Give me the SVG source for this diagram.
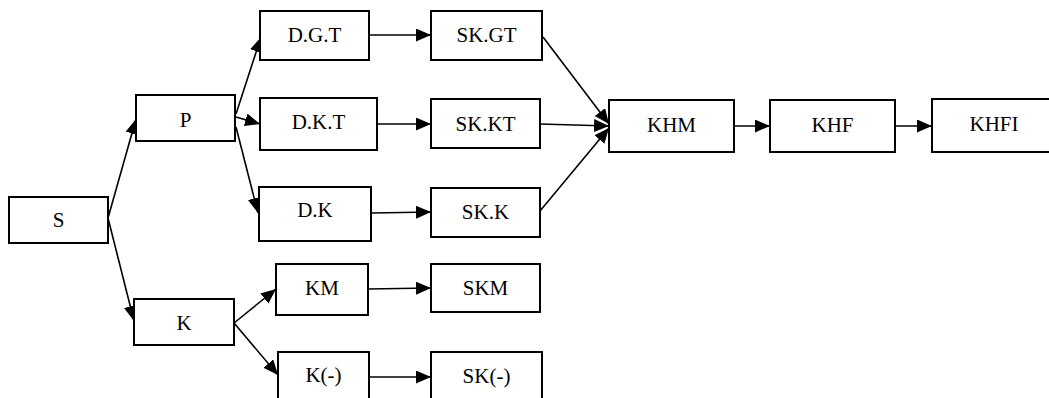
<svg xmlns="http://www.w3.org/2000/svg" width="1049" height="398" viewBox="0 0 1049 398">
<style>
rect.box{fill:#fff;stroke:#000;stroke-width:2}
text{font-family:"Liberation Serif","Times New Roman",serif;font-size:21px;fill:#000;text-anchor:middle}
.conn line{stroke:#000;stroke-width:1.6;marker-end:url(#arr)}
</style>
<defs>
<marker id="arr" markerUnits="userSpaceOnUse" markerWidth="16" markerHeight="14" refX="15" refY="6.5" orient="auto">
<path d="M0,0 L15,6.5 L0,13 z" fill="#000"/>
</marker>
</defs>
<g id="connectors" class="conn">
<line x1="108" y1="218" x2="136" y2="119"/>
<line x1="108" y1="218" x2="134" y2="321"/>
<line x1="236" y1="114" x2="261" y2="37"/>
<line x1="236" y1="117" x2="260" y2="124"/>
<line x1="236" y1="127" x2="258" y2="213"/>
<line x1="234" y1="323" x2="276" y2="289"/>
<line x1="234" y1="323" x2="278" y2="375"/>
<line x1="369" y1="35" x2="431" y2="35"/>
<line x1="377" y1="124" x2="431" y2="124"/>
<line x1="372" y1="213" x2="431" y2="212"/>
<line x1="368" y1="289" x2="431" y2="288"/>
<line x1="369" y1="377" x2="431" y2="377"/>
<line x1="543" y1="37" x2="609" y2="124"/>
<line x1="540" y1="124" x2="609" y2="126"/>
<line x1="540" y1="211" x2="609" y2="128"/>
<line x1="734" y1="126" x2="770" y2="126"/>
<line x1="895" y1="126" x2="932" y2="126"/>
</g>
<g id="node-S"><rect class="box" x="9" y="197" width="99" height="46"/><text x="58.5" y="227">S</text></g>
<g id="node-P"><rect class="box" x="136" y="95" width="99" height="46"/><text x="185.5" y="126.5">P</text></g>
<g id="node-K"><rect class="box" x="134" y="299" width="100" height="46"/><text x="184" y="330">K</text></g>
<g id="node-DGT"><rect class="box" x="260" y="11" width="109" height="49"/><text x="314.5" y="41.5">D.G.T</text></g>
<g id="node-DKT"><rect class="box" x="260" y="98" width="117" height="52"/><text x="318.5" y="129">D.K.T</text></g>
<g id="node-DK"><rect class="box" x="259" y="187" width="112" height="54"/><text x="315" y="217">D.K</text></g>
<g id="node-KM"><rect class="box" x="276" y="264" width="92" height="51"/><text x="322" y="295">KM</text></g>
<g id="node-Kminus"><rect class="box" x="278" y="352" width="91" height="52"/><text x="323.5" y="382">K(-)</text></g>
<g id="node-SKGT"><rect class="box" x="431" y="11" width="111" height="49"/><text x="486.5" y="41.5">SK.GT</text></g>
<g id="node-SKKT"><rect class="box" x="431" y="99" width="109" height="49"/><text x="485.5" y="131">SK.KT</text></g>
<g id="node-SKK"><rect class="box" x="431" y="188" width="109" height="49"/><text x="485.5" y="219">SK.K</text></g>
<g id="node-SKM"><rect class="box" x="431" y="264" width="109" height="48"/><text x="485.5" y="295">SKM</text></g>
<g id="node-SKminus"><rect class="box" x="431" y="352" width="111" height="52"/><text x="486.5" y="383">SK(-)</text></g>
<g id="node-KHM"><rect class="box" x="609" y="100" width="125" height="52"/><text x="671.5" y="131.5">KHM</text></g>
<g id="node-KHF"><rect class="box" x="770" y="100" width="125" height="52"/><text x="832.5" y="131.5">KHF</text></g>
<g id="node-KHFI"><rect class="box" x="932" y="99" width="125" height="53"/><text x="994" y="130.5">KHFI</text></g>
</svg>
